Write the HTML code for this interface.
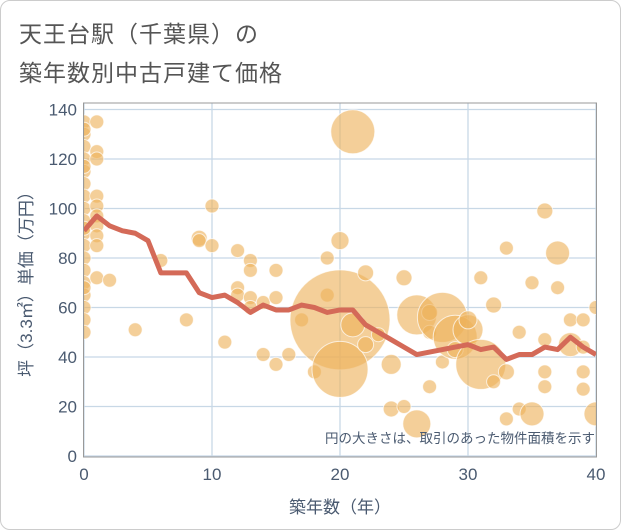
<!DOCTYPE html>
<html><head><meta charset="utf-8">
<style>
body{margin:0;background:#fff;}
#wrap{position:relative;width:619px;height:528px;border:1px solid #ccc;border-radius:10px;overflow:hidden;background:#fff;font-family:"Liberation Sans","Noto Sans CJK JP",sans-serif;}
.title{position:absolute;left:18px;font-size:23px;color:#555;letter-spacing:1px;}
</style></head><body>
<div id="wrap">
<div class="title" style="top:14px">天王台駅（千葉県）の</div>
<div class="title" style="top:53px">築年数別中古戸建て価格</div>
<svg id="chart" width="621" height="530" style="position:absolute;left:-1px;top:-1px"></svg>
</div>
<script>
const lineYears=[0,1,2,3,4,5,6,7,8,9,10,11,12,13,14,15,16,17,18,19,20,21,22,23,24,25,26,27,28,29,30,31,32,33,34,35,36,37,38,39,40];
const linePrices=[91,97,93,91,90,87,74,74,74,66,64,65,62,58,61,59,59,61,60,58,59,59,53,50,47,44,41,42,43,44,45,43,44,39,41,41,44,43,48,44,41];
const bubbleYears=[0,0,0,0,0,0,0,0,0,0,0,0,0,0,0,0,0,0,0,0,0,0,1,1,1,1,1,1,1,1,1,1,2,4,6,8,9,9,10,10,11,12,12,12,13,13,13,13,14,14,15,15,15,16,17,18,19,19,20,20,20,21,21,22,22,23,24,24,25,25,26,26,27,27,27,28,28,29,29,30,30,31,31,32,32,33,33,33,34,34,35,35,36,36,36,36,37,37,38,38,39,39,39,39,40,40];
const bubblePrices=[135,130,125,120,115,110,105,100,95,90,85,80,75,70,65,60,55,50,132,117,92,68,135,123,120,105,101,97,93,89,85,72,71,51,79,55,88,87,101,85,46,83,68,65,79,75,64,60,62,41,37,75,64,41,55,34,80,65,55,35,87,131,53,74,45,49,37,19,72,20,57,13,28,50,58,56,38,48,43,51,55,37,72,61,30,84,34,15,50,19,70,17,99,47,28,34,82,68,55,45,55,44,34,27,17,60];
const bubbleSizes=[7,7,7,7,7,7,7,7,7,7,7,7,7,7,7,7,7,7,7,7,7,7,7,7,7,7,7,7,7,7,7,7,7,7,7,7,8,7,7,7,7,7,7,7,7,7,7,7,7,7,7,7,7,7,7,7,7,7,50,28,9,22,12,8,8,7,10,8,8,7,20,14,7,7,8,25,7,22,8,15,9,25,7,8,7,7,8,7,7,7,7,12,8,7,7,7,12,7,7,12,7,7,7,7,12,7];
const xTicks=[0,10,20,30,40];
const yTicks=[0,20,40,60,80,100,120,140];
const NS="http://www.w3.org/2000/svg";
const svg=document.getElementById('chart');
const X0=84,X1=596,Y0=456,Y140=109.5;
function xs(v){return X0+(X1-X0)*v/40;}
function ys(v){return Y0-(Y0-Y140)*v/140;}
function mk(t,a){const e=document.createElementNS(NS,t);for(const k in a)e.setAttribute(k,a[k]);svg.appendChild(e);return e;}
let cp=document.createElementNS(NS,'clipPath');cp.setAttribute('id','pc');
let cr=document.createElementNS(NS,'rect');cr.setAttribute('x',84);cr.setAttribute('y',103);cr.setAttribute('width',513);cr.setAttribute('height',354);cp.appendChild(cr);svg.appendChild(cp);
for(const t of yTicks){const g=mk('line',{x1:84,x2:597,y1:ys(t),y2:ys(t),stroke:'#c8d8e6','stroke-width':1.3});


const l=mk('text',{x:77,y:ys(t)+6,'text-anchor':'end','font-size':17,fill:'#4a5a70','font-family':'Liberation Sans, sans-serif'});l.textContent=t;

}
for(const t of xTicks){const g=mk('line',{x1:xs(t),x2:xs(t),y1:103,y2:457,stroke:'#c8d8e6','stroke-width':1.3});


const l=mk('text',{x:xs(t),y:480,'text-anchor':'middle','font-size':17,fill:'#4a5a70','font-family':'Liberation Sans, sans-serif'});l.textContent=t;

}
const bg=mk('g',{'clip-path':'url(#pc)'});


for(let i=0;i<bubbleYears.length;i++){const c=document.createElementNS(NS,'circle');
c.setAttribute('cx',xs(bubbleYears[i]));c.setAttribute('cy',ys(bubblePrices[i]));c.setAttribute('r',bubbleSizes[i]);
c.setAttribute('fill','rgba(238,178,90,0.62)');c.setAttribute('stroke','rgba(255,255,255,0.7)');c.setAttribute('stroke-width',1);


bg.appendChild(c);}
const pl=mk('polyline',{points:lineYears.map((y,i)=>xs(y)+','+ys(linePrices[i])).join(' '),fill:'none',stroke:'#d46a58','stroke-width':5,'stroke-linejoin':'round','clip-path':'url(#pc)'});


const fr=mk('rect',{x:83.5,y:103,width:513,height:354,fill:'none',stroke:'#999','stroke-width':1});


const note=mk('text',{x:595,y:443,'text-anchor':'end','font-size':13.5,fill:'#4a5a70','font-family':'Liberation Sans, Noto Sans CJK JP, sans-serif'});note.textContent='円の大きさは、取引のあった物件面積を示す';


const xt=mk('text',{x:340,y:513,'text-anchor':'middle','font-size':17,fill:'#4a5a70','font-family':'Liberation Sans, Noto Sans CJK JP, sans-serif'});xt.textContent='築年数（年）';


const yt=mk('text',{x:0,y:0,'text-anchor':'middle','font-size':17,fill:'#4a5a70','font-family':'Liberation Sans, Noto Sans CJK JP, sans-serif',transform:'translate(32,280) rotate(-90)'});yt.textContent='坪（3.3㎡）単価（万円）';


</script>
</body></html>
